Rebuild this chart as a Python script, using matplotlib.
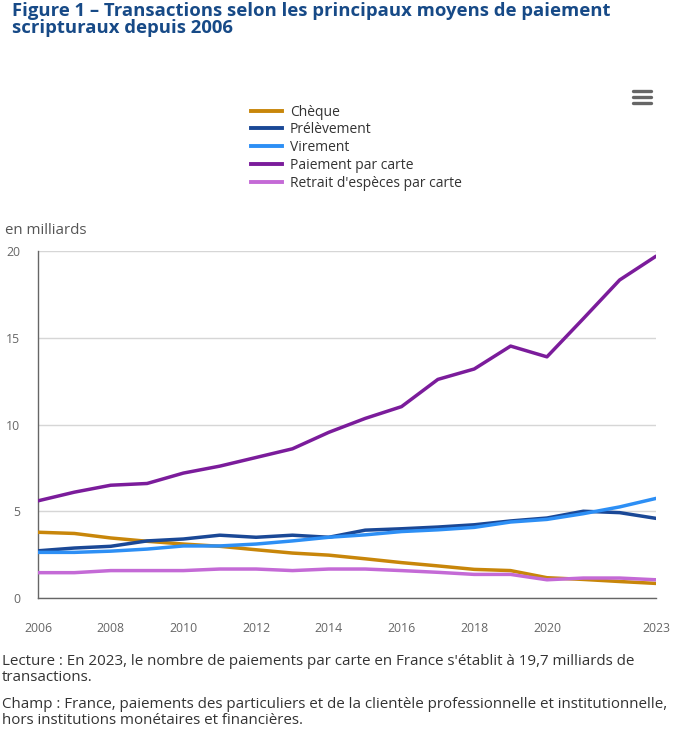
import matplotlib
matplotlib.use("Agg")
import matplotlib.pyplot as plt
from matplotlib.lines import Line2D

plt.rcParams["font.family"] = ["Open Sans", "DejaVu Sans"]

# data (en milliards de transactions)
years = list(range(2006, 2024))
cheque = [3.79, 3.72, 3.46, 3.27, 3.11, 2.98, 2.78, 2.59, 2.47, 2.26, 2.04, 1.85, 1.65, 1.58, 1.17, 1.07, 0.95, 0.84]
prelevement = [2.72, 2.88, 2.98, 3.29, 3.40, 3.62, 3.50, 3.62, 3.50, 3.91, 3.99, 4.09, 4.22, 4.44, 4.61, 5.00, 4.92, 4.59]
virement = [2.63, 2.63, 2.70, 2.82, 3.00, 3.00, 3.11, 3.29, 3.50, 3.64, 3.83, 3.93, 4.07, 4.38, 4.53, 4.86, 5.25, 5.74]
carte = [5.6, 6.1, 6.5, 6.6, 7.2, 7.6, 8.1, 8.6, 9.55, 10.35, 11.03, 12.6, 13.2, 14.52, 13.9, 16.1, 18.33, 19.7]
retrait = [1.46, 1.46, 1.58, 1.58, 1.58, 1.67, 1.67, 1.58, 1.67, 1.67, 1.58, 1.48, 1.36, 1.36, 1.05, 1.15, 1.15, 1.05]

series_names = ["Chèque", "Prélèvement", "Virement", "Paiement par carte", "Retrait d'espèces par carte"]
series_colors = ["#c8860a", "#1a4896", "#2d8ff5", "#7b1c9b", "#c46ad6"]
x_ticks = [2006, 2008, 2010, 2012, 2014, 2016, 2018, 2020, 2023]
y_ticks = [0, 5, 10, 15, 20]

W, H = 690, 732
fig = plt.figure(figsize=(W / 100, H / 100), dpi=100)

# axes box in pixels: left 38, right 656, top 251, bottom 598
ax = fig.add_axes([38 / W, 1 - 598 / H, (656 - 38) / W, (598 - 251) / H])

all_series = [cheque, prelevement, virement, carte, retrait]
for vals, col in zip(all_series, series_colors):
    ax.plot(years, vals, color=col, lw=2.5, solid_capstyle="round", zorder=3)

ax.set_xlim(2006, 2023)
ax.set_ylim(0, 20)
ax.set_xticks(x_ticks)
ax.set_yticks(y_ticks)
ax.grid(axis="y", color="#d6d6d6", lw=1)
ax.set_axisbelow(True)
for s in ["top", "right"]:
    ax.spines[s].set_visible(False)
ax.spines["left"].set_color("#666666")
ax.spines["bottom"].set_color("#666666")
ax.spines["left"].set_linewidth(1)
ax.spines["bottom"].set_linewidth(1)
ax.tick_params(axis="both", length=0, colors="#666666", labelsize=8.8)
ax.tick_params(axis="y", pad=13)
ax.tick_params(axis="x", pad=17)

# legend
handles = [Line2D([0], [0], color=c, lw=2.8) for c in series_colors]
fig.legend(handles, series_names, loc="upper left", bbox_to_anchor=(238 / W, 1 - 92 / H),
           frameon=False, fontsize=10, handlelength=2.3, handletextpad=0.55,
           labelspacing=0.2, labelcolor="#333333")

# hamburger menu icon
for yy in [91, 97, 103]:
    fig.add_artist(Line2D([633 / W, 651 / W], [1 - yy / H, 1 - yy / H], color="#666666",
                          lw=2.4, solid_capstyle="round"))

# title
fig.text(12 / W, 1 - 2 / H, "Figure 1 – Transactions selon les principaux moyens de paiement\nscripturaux depuis 2006",
         ha="left", va="top", fontsize=13.3, fontweight="bold", color="#174a87", linespacing=0.93)

fig.text(5 / W, 1 - 230 / H, "en milliards", ha="left", va="center", fontsize=10.8, color="#555555")

# notes
fig.text(2 / W, 1 - 654 / H, "Lecture : En 2023, le nombre de paiements par carte en France s'établit à 19,7 milliards de\ntransactions.",
         ha="left", va="top", fontsize=10.9, color="#333333", linespacing=1.05)
fig.text(2 / W, 1 - 697 / H, "Champ : France, paiements des particuliers et de la clientèle professionnelle et institutionnelle,\nhors institutions monétaires et financières.",
         ha="left", va="top", fontsize=10.9, color="#333333", linespacing=1.05)

fig.savefig("out.png", dpi=100, facecolor="white")
